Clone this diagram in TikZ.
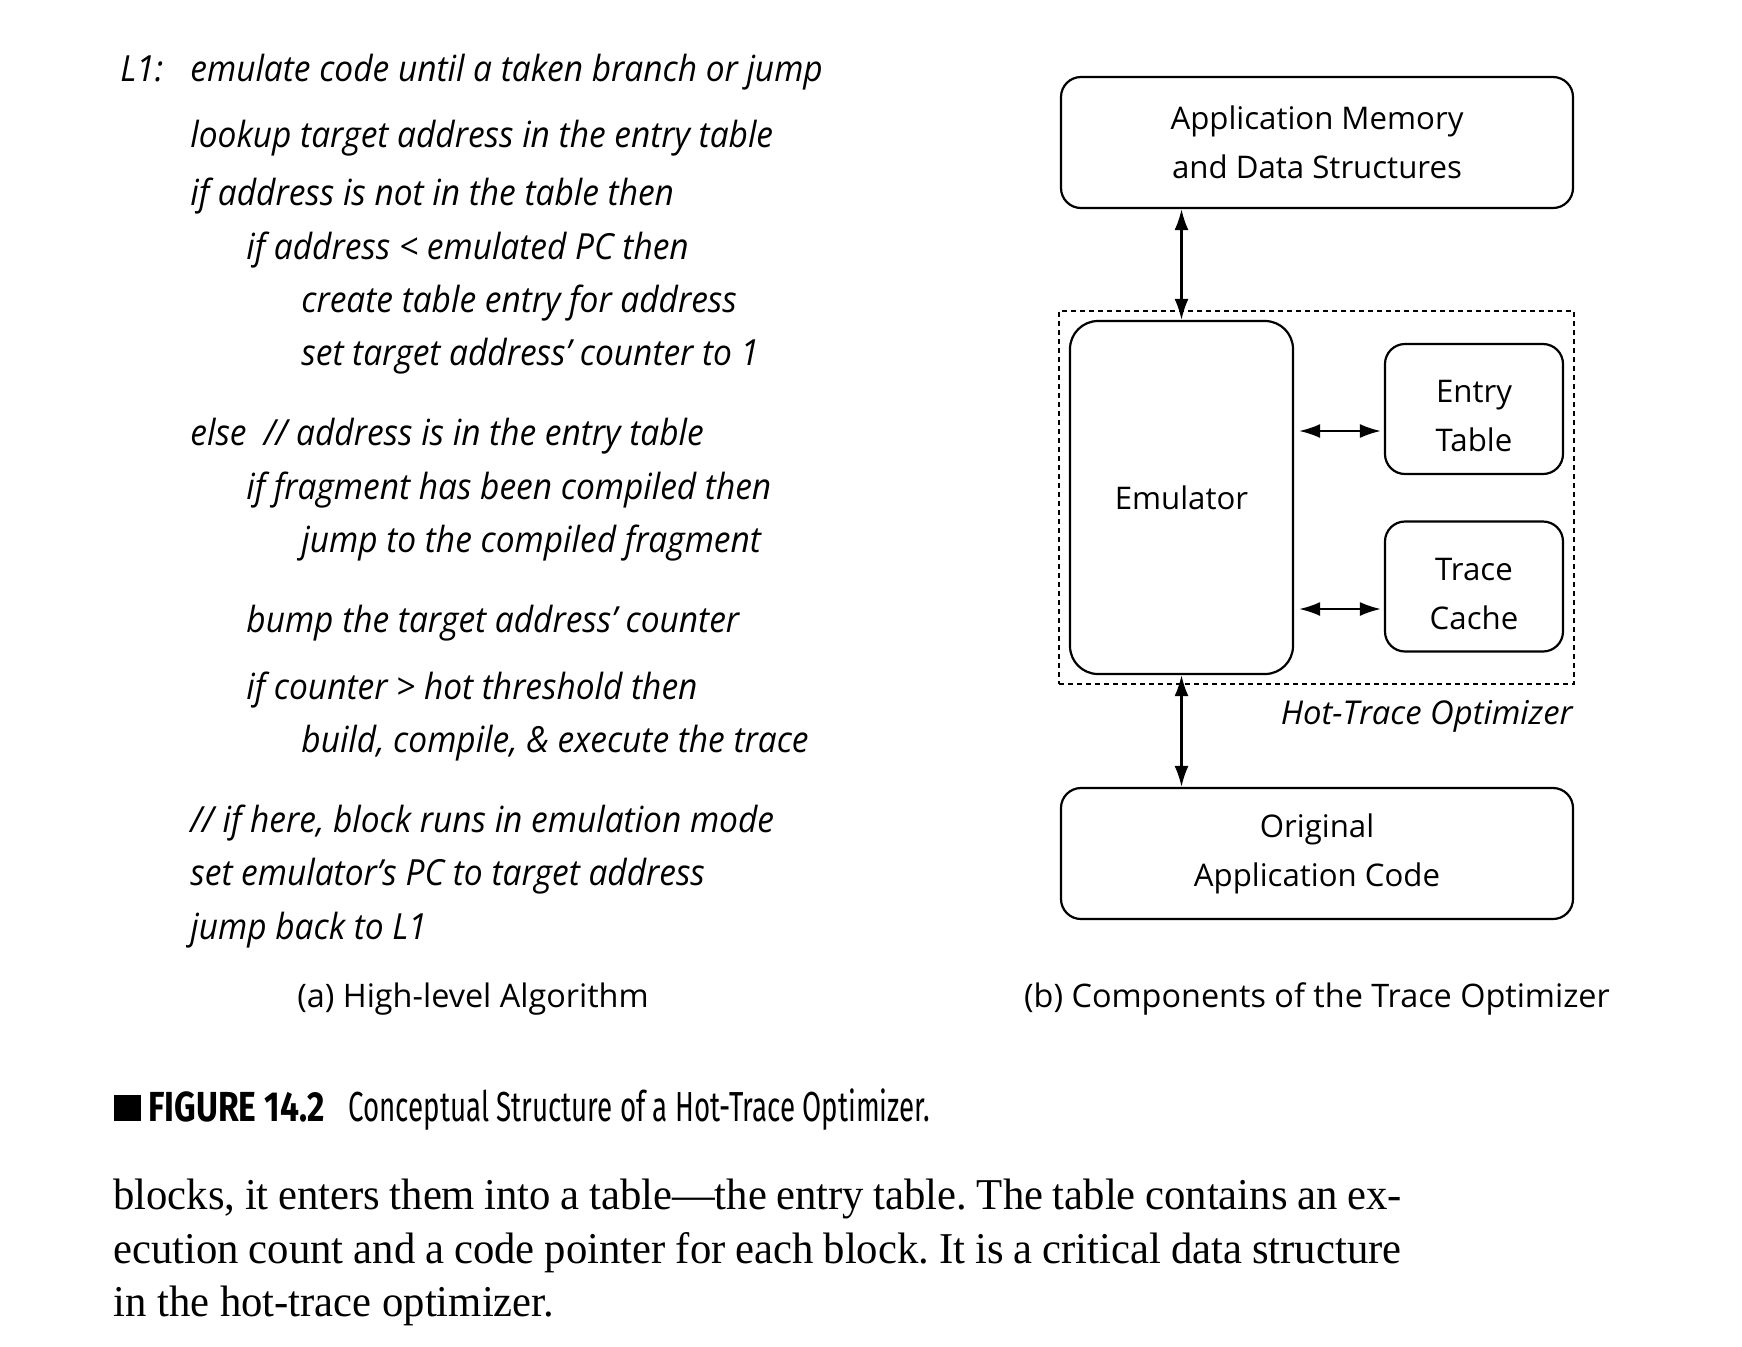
\documentclass[tikz,border=0pt]{standalone}
\usepackage{fontspec}
\setmainfont{Liberation Serif}
\newfontfamily\diagfont{Open Sans}
\newfontfamily\algfont[FakeStretch=0.93]{Open Sans}
\newfontfamily\capboldfont[FakeStretch=0.80]{Fira Sans}
\newfontfamily\capfont[FakeStretch=0.66]{Fira Sans}
\newfontfamily\bodyfont[FakeStretch=0.97]{Liberation Serif}
\usetikzlibrary{arrows.meta}
\frenchspacing
\begin{document}
\begin{tikzpicture}[x=0.5pt,y=-0.5pt,
  box/.style={draw, line width=1.1pt, rounded corners=10pt, align=center, inner sep=0pt,
    font=\diagfont\fontsize{15.6}{24.5}\selectfont},
  alg/.style={anchor=base west, inner sep=0pt, font=\algfont\itshape\fontsize{18}{21}\selectfont},
  arr/.style={{Latex[length=10.5pt,width=7pt]}-{Latex[length=10.5pt,width=7pt]}, line width=1.1pt},
  subcap/.style={inner sep=0pt, font=\diagfont\fontsize{16.2}{20}\selectfont},
  body/.style={anchor=base west, inner sep=0pt, font=\bodyfont\fontsize{22}{27}\selectfont}]
\fill[white] (0,0) rectangle (1742,1346);
\useasboundingbox (0,0) rectangle (1742,1346);

% ---- (a) algorithm ----
\node[alg] (l1) at (120,81) {L1:};
\node[alg] (a1) at (190,81) {emulate code until a taken branch or jump};
\node[alg] (a2) at (190,147) {lookup target address in the entry table};
\node[alg] (a3) at (190,205) {if address is not in the table then};
\node[alg] (a4) at (246,259) {if address < emulated PC then};
\node[alg] (a5) at (301,312) {create table entry for address};
\node[alg] (a6) at (301,365) {set target address’ counter to 1};
\node[alg] (a7) at (190,445) {else\ \ // address is in the entry table};
\node[alg] (a8) at (246,499) {if fragment has been compiled then};
\node[alg] (a9) at (301,552) {jump to the compiled fragment};
\node[alg] (a10) at (246,632) {bump the target address’ counter};
\node[alg] (a11) at (246,699) {if counter > hot threshold then};
\node[alg] (a12) at (301,752) {build, compile, \& execute the trace};
\node[alg] (a13) at (190,832) {// if here, block runs in emulation mode};
\node[alg] (a14) at (190,885) {set emulator’s PC to target address};
\node[alg] (a15) at (190,939) {jump back to L1};
\node[subcap] (capa) at (473,999) {(a) High-level Algorithm};

% ---- (b) components ----
\node[box, minimum width=256pt, minimum height=65.5pt] (mem) at (1317,142.5) {Application Memory\\and Data Structures};
\node[draw, line width=0.8pt, dash pattern=on 2.5pt off 2pt, minimum width=257.5pt, minimum height=186.5pt, inner sep=0pt] (hto) at (1316.5,497.5) {};
\node[box, rounded corners=14pt, minimum width=111.5pt, minimum height=176.5pt] (emu) at (1181.5,497.5) {Emulator};
\node[box, minimum width=89pt, minimum height=65pt, text height=42.5pt, text depth=0pt] (entry) at (1474,409) {Entry\\Table};
\node[box, minimum width=89pt, minimum height=65pt, text height=42.5pt, text depth=0pt] (trace) at (1474,586.5) {Trace\\Cache};
\node[box, minimum width=256pt, minimum height=65.5pt] (orig) at (1317,853.5) {Original\\Application Code};
\node[anchor=base east, inner sep=0pt, font=\diagfont\itshape\fontsize{16.4}{20}\selectfont] (htolab) at (1573,724) {Hot-Trace Optimizer};

\draw[arr] (mem.south -| emu) -- (emu.north);
\draw[arr] (emu.south) -- (orig.north -| emu);
\draw[arr] ([xshift=2.5pt,yshift=-11pt]emu.east |- entry.west) -- ([xshift=-1.5pt,yshift=-11pt]entry.west);
\draw[arr] ([xshift=2.5pt,yshift=-11.25pt]emu.east |- trace.west) -- ([xshift=-1.5pt,yshift=-11.25pt]trace.west);
\node[subcap] (capb) at (1317,999) {(b) Components of the Trace Optimizer};

% ---- figure caption ----
\node[anchor=south west, inner sep=0pt, fill=black, minimum width=13.5pt, minimum height=13pt] (sq) at (114,1121) {};
\node[anchor=base west, inner sep=0pt, font=\capboldfont\bfseries\fontsize{21}{24}\selectfont] (fig) at (148,1121) {FIGURE 14.2};
\node[anchor=base west, inner sep=0pt, font=\capfont\fontsize{21}{24}\selectfont] (figcap) at (348,1121) {Conceptual Structure of a Hot-Trace Optimizer.};

% ---- body text ----
\node[body] (b1) at (113,1209) {\makebox[644pt][s]{blocks, it enters them into a table—the entry table. The table contains an ex-}};
\node[body] (b2) at (113,1263) {\makebox[644pt][s]{ecution count and a code pointer for each block. It is a critical data structure}};
\node[body] (b3) at (113,1316) {in the hot-trace optimizer.};
\end{tikzpicture}
\end{document}
